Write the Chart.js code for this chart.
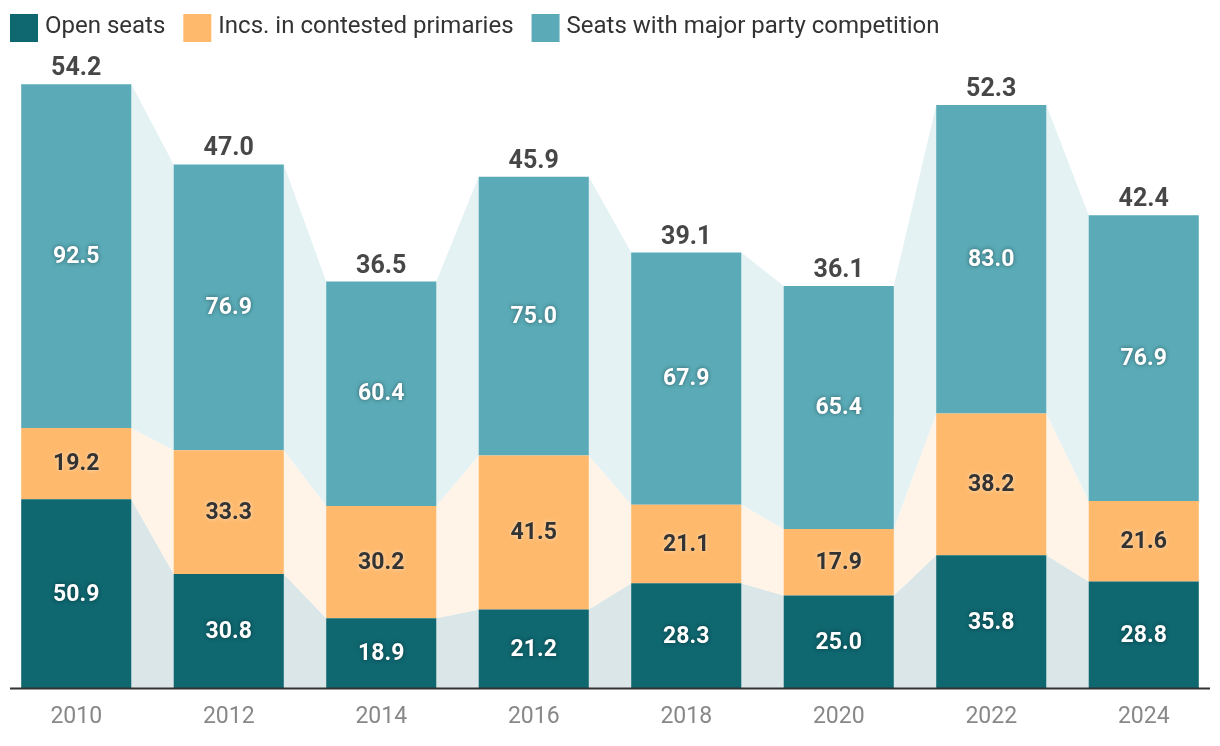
<!DOCTYPE html>
<html>
<head>
<meta charset="utf-8">
<script src="https://cdn.jsdelivr.net/npm/chart.js@4"></script>
<style>
  html, body { margin: 0; padding: 0; background: #fff; }
  #wrap { width: 1220px; height: 746px; }
</style>
</head>
<body>
<div id="wrap"><canvas id="myChart"></canvas></div>
<script>
const years = ['2010','2012','2014','2016','2018','2020','2022','2024'];
const openSeats = [50.9, 30.8, 18.9, 21.2, 28.3, 25.0, 35.8, 28.8];
const contestedIncs = [19.2, 33.3, 30.2, 41.5, 21.1, 17.9, 38.2, 21.6];
const majorParty = [92.5, 76.9, 60.4, 75.0, 67.9, 65.4, 83.0, 76.9];
const totals = [54.2, 47.0, 36.5, 45.9, 39.1, 36.1, 52.3, 42.4];

const seriesNames = ['Open seats', 'Incs. in contested primaries', 'Seats with major party competition'];
const barColors = ['#0f6770', '#feb96c', '#5aabb7'];
const bandColors = ['#dae6e7', '#fff4e7', '#e4f2f4'];
const labelColors = ['#ffffff', '#333333', '#ffffff'];

const FONT = 'Roboto, "Noto Sans", sans-serif';

// light bands joining the segments of neighbouring bars
const bands = {
  id: 'bands',
  beforeDatasetsDraw(chart) {
    const ctx = chart.ctx;
    ctx.save();
    chart.data.datasets.forEach((ds, d) => {
      const bars = chart.getDatasetMeta(d).data;
      ctx.fillStyle = bandColors[d];
      for (let i = 0; i < bars.length - 1; i++) {
        const a = bars[i].getProps(['x','y','base','width'], true);
        const b = bars[i + 1].getProps(['x','y','base','width'], true);
        ctx.beginPath();
        ctx.moveTo(a.x + a.width / 2, a.y);
        ctx.lineTo(b.x - b.width / 2, b.y);
        ctx.lineTo(b.x - b.width / 2, b.base);
        ctx.lineTo(a.x + a.width / 2, a.base);
        ctx.closePath();
        ctx.fill();
      }
    });
    ctx.restore();
  },
  afterDatasetsDraw(chart) {
    const ctx = chart.ctx;
    const area = chart.chartArea;
    ctx.save();
    // value labels
    ctx.textAlign = 'center';
    ctx.textBaseline = 'middle';
    ctx.font = 'bold 23px ' + FONT;
    chart.data.datasets.forEach((ds, d) => {
      chart.getDatasetMeta(d).data.forEach((bar, i) => {
        const p = bar.getProps(['x','y','base'], true);
        ctx.shadowColor = d === 1 ? 'rgba(255,255,255,0.6)' : 'rgba(0,0,0,0.45)';
        ctx.shadowBlur = 4;
        ctx.fillStyle = labelColors[d];
        ctx.fillText(ds.data[i].toFixed(1), p.x, (p.y + p.base) / 2 + 1);
      });
    });
    ctx.shadowColor = 'transparent';
    ctx.shadowBlur = 0;
    // totals
    const top = chart.getDatasetMeta(2).data;
    ctx.font = 'bold 25px ' + FONT;
    ctx.fillStyle = '#474747';
    ctx.textBaseline = 'alphabetic';
    top.forEach((bar, i) => {
      ctx.fillText(totals[i].toFixed(1), bar.x, bar.y - 9);
    });
    // baseline
    ctx.strokeStyle = '#333333';
    ctx.lineWidth = 2;
    ctx.beginPath();
    ctx.moveTo(10, area.bottom);
    ctx.lineTo(1210, area.bottom);
    ctx.stroke();
    // legend
    ctx.font = '24px ' + FONT;
    ctx.textBaseline = 'middle';
    ctx.textAlign = 'left';
    let x = 10;
    seriesNames.forEach((name, d) => {
      ctx.fillStyle = barColors[d];
      ctx.fillRect(x, 14, 28, 28);
      ctx.fillStyle = '#333333';
      ctx.fillText(name, x + 35, 27);
      x += 35 + ctx.measureText(name).width + 18;
    });
    ctx.restore();
  }
};

const data = {
  labels: years,
  datasets: [
    { label: seriesNames[0], data: openSeats, backgroundColor: barColors[0] },
    { label: seriesNames[1], data: contestedIncs, backgroundColor: barColors[1] },
    { label: seriesNames[2], data: majorParty, backgroundColor: barColors[2] }
  ]
};

const config = {
  type: 'bar',
  data: data,
  options: {
    responsive: true,
    maintainAspectRatio: false,
    animation: false,
    datasets: { bar: { barPercentage: 0.722, categoryPercentage: 1, borderWidth: 0 } },
    layout: { padding: { top: 50, left: 0, right: 0, bottom: 0 } },
    plugins: { legend: { display: false }, tooltip: { enabled: false } },
    scales: {
      x: {
        stacked: true,
        grid: { display: false, drawTicks: false },
        border: { display: false },
        ticks: { color: '#888888', font: { family: FONT, size: 23 }, padding: 15 }
      },
      y: {
        stacked: true,
        display: false,
        min: 0,
        max: 171.8
      }
    }
  },
  plugins: [bands]
};

var myChart = new Chart(document.getElementById('myChart'), config);
</script>
</body>
</html>
